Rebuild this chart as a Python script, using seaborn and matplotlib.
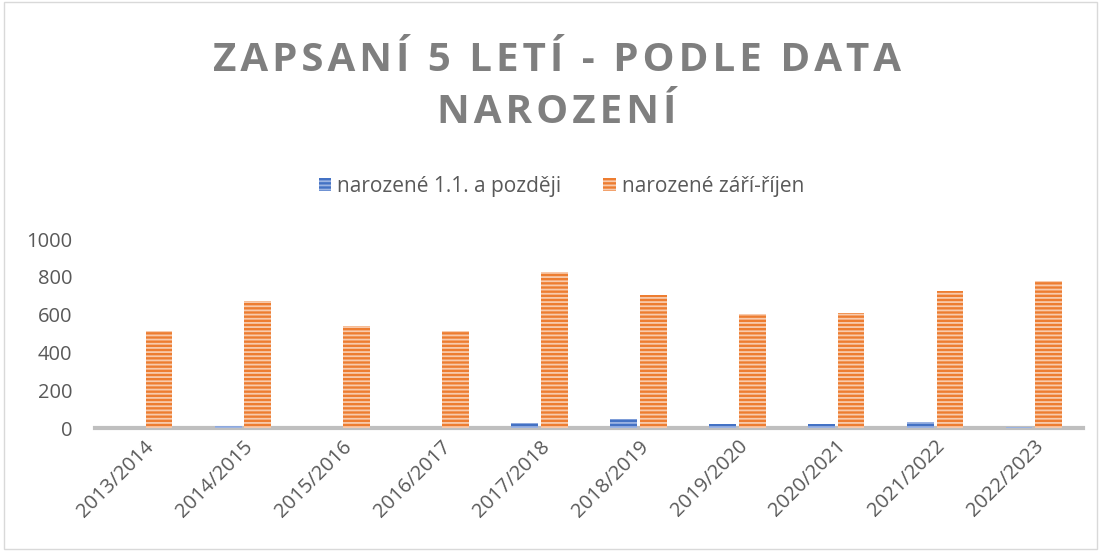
import pandas as pd
import seaborn as sns
import matplotlib.pyplot as plt
from matplotlib.patches import Patch, Rectangle

roky = ['2013/2014', '2014/2015', '2015/2016', '2016/2017', '2017/2018',
        '2018/2019', '2019/2020', '2020/2021', '2021/2022', '2022/2023']
pozdeji = [0, 12, 0, 0, 25, 50, 20, 20, 35, 8]
zari_rijen = [512, 675, 543, 512, 828, 702, 602, 607, 728, 781]
serie = ['narozené 1.1. a později', 'narozené září-říjen']

df = pd.DataFrame({'rok': roky * 2,
                   'pocet': pozdeji + zari_rijen,
                   'skupina': [serie[0]] * len(roky) + [serie[1]] * len(roky)})

sns.set_style('white')
plt.rcParams['font.family'] = ['Open Sans', 'DejaVu Sans']
plt.rcParams['hatch.linewidth'] = 1.3

barvy = ['#4472C4', '#ED7D31']
svetle = ['#9DB5E3', '#F8CBAD']
seda = '#595959'

fig = plt.figure(figsize=(11.01, 5.51), dpi=100)
ax = fig.add_axes([0.086, 0.223, 0.898, 0.343])
sns.barplot(data=df, x='rok', y='pocet', hue='skupina', palette=barvy,
            width=0.6, gap=0.1, ax=ax, legend=False, saturation=1)

# pruhovana vypln jako v Excelu, sloupce nad osou
for i, bars in enumerate(ax.containers):
    for b in bars:
        b.set_hatch('----')
        b.set_edgecolor(svetle[i])
        b.set_linewidth(0)
        b.set_zorder(3)

ax.set_ylim(0, 1000)
ax.set_yticks(range(0, 1001, 200))
ax.set_xlabel('')
ax.set_ylabel('')
for s in ['top', 'right', 'left']:
    ax.spines[s].set_visible(False)
ax.spines['bottom'].set_color('#BFBFBF')
ax.spines['bottom'].set_linewidth(3)
ax.tick_params(axis='both', length=0, labelsize=14.5, colors=seda)
ax.tick_params(axis='y', pad=16)
ax.tick_params(axis='x', pad=6)
plt.setp(ax.get_xticklabels(), rotation=45, ha='right', rotation_mode='anchor')

handles = [Patch(facecolor=barvy[i], edgecolor=svetle[i], hatch='----', linewidth=0)
           for i in range(2)]
fig.legend(handles, serie, loc='center', bbox_to_anchor=(0.51, 0.662), ncol=2,
           frameon=False, fontsize=15, labelcolor=seda, handlelength=0.6,
           handleheight=0.6, columnspacing=2.0, handletextpad=0.3)

nazev = ['ZAPSANÍ 5 LETÍ - PODLE DATA', 'NAROZENÍ']
for j, radek in enumerate(nazev):
    fig.text(0.506, 0.89 - j * 0.095, '\u200a'.join(radek), ha='center', va='center',
             fontsize=29, fontweight='bold', color='#7F7F7F')

fig.patches.append(Rectangle((0.004, 0.004), 0.992, 0.992, transform=fig.transFigure,
                             fill=False, edgecolor='#D9D9D9', linewidth=1))

plt.savefig('out.png', dpi=100)
